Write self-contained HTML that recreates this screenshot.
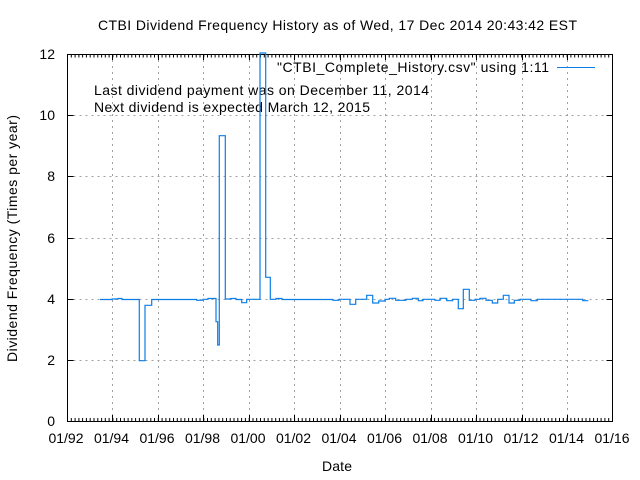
<!DOCTYPE html>
<html><head><meta charset="utf-8"><style>
html,body{margin:0;padding:0;background:#fff;}
svg{display:block;font-family:"Liberation Sans",Arial,sans-serif;}
</style></head><body>
<svg width="640" height="480" viewBox="0 0 640 480" xmlns="http://www.w3.org/2000/svg">
<rect width="640" height="480" fill="#fff"/>
<g stroke="#a0a0a0" stroke-width="1" stroke-dasharray="2,4" fill="none">
<path d="M67.5 360.5H612M67.5 299.5H612M67.5 238.5H612M67.5 176.5H612M67.5 115.5H612"/>
<path d="M112.5 54V421M158.5 54V421M203.5 54V421M249.5 54V421M294.5 54V421M340.5 54V421M385.5 54V421M431.5 54V421M476.5 54V421M522.5 54V421M567.5 54V421"/>
</g>
<g stroke="#000" stroke-width="1" fill="none">
<rect x="67.5" y="54.5" width="545" height="367"/>
<path d="M67.5 421.5h6M67.5 360.5h6M67.5 299.5h6M67.5 238.5h6M67.5 176.5h6M67.5 115.5h6M67.5 54.5h6
M612.5 421.5h-6M612.5 360.5h-6M612.5 299.5h-6M612.5 238.5h-6M612.5 176.5h-6M612.5 115.5h-6"/>
<path d="M112.5 421v-6M158.5 421v-6M203.5 421v-6M249.5 421v-6M294.5 421v-6M340.5 421v-6M385.5 421v-6M431.5 421v-6M476.5 421v-6M522.5 421v-6M567.5 421v-6
M112.5 54v6M158.5 54v6M203.5 54v6M249.5 54v6M294.5 54v6M340.5 54v6M385.5 54v6M431.5 54v6M476.5 54v6M522.5 54v6M567.5 54v6"/>
</g>
<g id="minor" stroke="#000" stroke-width="1"></g>
<script>
(function(){var g=document.getElementById('minor'),s='';for(var i=0;i<144;i++){var x=67.5+i*545/144;s+='M'+x.toFixed(1)+' 54.5v3M'+x.toFixed(1)+' 421v-3';}var p=document.createElementNS('http://www.w3.org/2000/svg','path');p.setAttribute('d',s);g.appendChild(p);})();
</script>
<g font-size="14" fill="#000" text-anchor="end">
<text x="55" y="426">0</text><text x="55" y="365">2</text><text x="55" y="304">4</text>
<text x="55" y="243">6</text><text x="55" y="181">8</text><text x="55" y="120">10</text><text x="55" y="59">12</text>
</g>
<g font-size="14" fill="#000" text-anchor="middle">
<text x="66" y="443" textLength="35">01/92</text><text x="111.5" y="443" textLength="35">01/94</text><text x="157" y="443" textLength="35">01/96</text>
<text x="202.5" y="443" textLength="35">01/98</text><text x="248" y="443" textLength="35">01/00</text><text x="293.5" y="443" textLength="35">01/02</text>
<text x="339" y="443" textLength="35">01/04</text><text x="384.5" y="443" textLength="35">01/06</text><text x="430" y="443" textLength="35">01/08</text>
<text x="475.5" y="443" textLength="35">01/10</text><text x="521" y="443" textLength="35">01/12</text><text x="566.5" y="443" textLength="35">01/14</text>
<text x="612" y="443" textLength="35">01/16</text>
<text x="337.5" y="30" textLength="479">CTBI Dividend Frequency History as of Wed, 17 Dec 2014 20:43:42 EST</text>
<text x="337" y="471" textLength="30">Date</text>
<text transform="translate(17,238.5) rotate(-90)" textLength="247">Dividend Frequency (Times per year)</text>
</g>
<g font-size="14" fill="#000">
<text x="94" y="95" textLength="335">Last dividend payment was on December 11, 2014</text>
<text x="94" y="112" textLength="276">Next dividend is expected March 12, 2015</text>
<text x="277" y="72" textLength="272">"CTBI_Complete_History.csv" using 1:11</text>
</g>
<path d="M557 67.5H595" stroke="#0a7ee6" stroke-width="1"/>
<path fill="none" stroke="#0a7ee6" stroke-width="1.2" d="
M100 299.5H112V299H118V298.5H122V299.5H139.3V360.7H145V305.3H151.7V299.5H196.7V300.3H203V299.3H208V298.5H216V321.7H217.7V345H219.3V135.7H225.3V299H231V298.5H236V299.5H241.7V302.7H246.7V299.3H260V53H265.7V277.3H270.3V299.3H276V298.5H282V299.5H286V299.5
H333V300.3H339V299.3H350V304.3H355.7V299.3H366.7V295.3H372.7V303H378.7V301H385V299.3H389.3V298.3H395.7V300.3H406V299.3H412.3V298.3H418.3V300.7H423V299.3H435V300.3H440V298.3H446.7V300.7H452.7V299.3H458.3V308.7H463.3V289.3H469.3V300.3H475V299.3H480V298.3H486V300.3H492.3V303H497.7V299.3H503.3V295.3H509V303H514.3V300.3H520V299.3H531V300.7H537.3V299.3H582.7V300.7H588.3"/>
</svg>
</body></html>
